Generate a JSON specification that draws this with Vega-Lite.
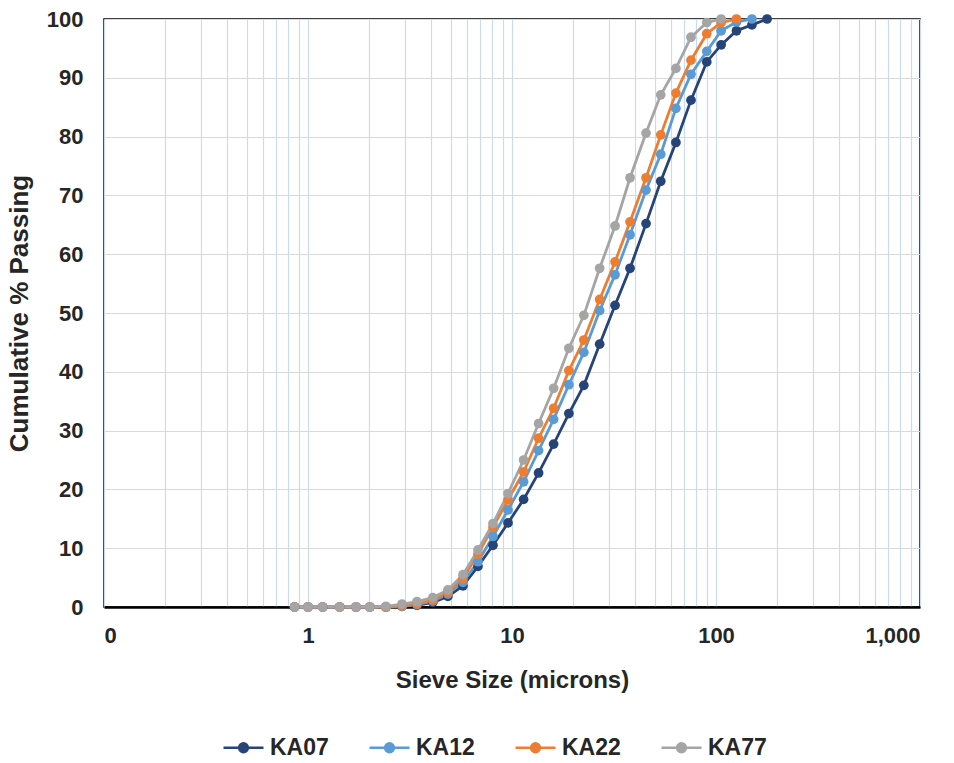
{
  "$schema": "https://vega.github.io/schema/vega-lite/v6.json",
  "autosize": {"type": "none"},
  "width": 816,
  "height": 588,
  "padding": {"left": 104, "top": 19, "right": 34, "bottom": 156},
  "background": "white",
  "config": {
    "view": {"stroke": "black", "strokeWidth": 1.5},
    "font": "Liberation Sans"
  },
  "data": {"values": [
    {"sample":"KA07","size":0.86,"pct":0},{"sample":"KA07","size":1.0,"pct":0},{"sample":"KA07","size":1.18,"pct":0},{"sample":"KA07","size":1.43,"pct":0},{"sample":"KA07","size":1.72,"pct":0},{"sample":"KA07","size":2.01,"pct":0},{"sample":"KA07","size":2.41,"pct":0},{"sample":"KA07","size":2.89,"pct":0.1},{"sample":"KA07","size":3.42,"pct":0.3},{"sample":"KA07","size":4.09,"pct":0.8},{"sample":"KA07","size":4.85,"pct":1.8},{"sample":"KA07","size":5.75,"pct":3.6},{"sample":"KA07","size":6.81,"pct":6.9},{"sample":"KA07","size":8.07,"pct":10.5},{"sample":"KA07","size":9.56,"pct":14.3},{"sample":"KA07","size":11.4,"pct":18.3},{"sample":"KA07","size":13.5,"pct":22.8},{"sample":"KA07","size":16.0,"pct":27.7},{"sample":"KA07","size":19.0,"pct":32.9},{"sample":"KA07","size":22.5,"pct":37.7},{"sample":"KA07","size":26.9,"pct":44.7},{"sample":"KA07","size":32.0,"pct":51.3},{"sample":"KA07","size":37.9,"pct":57.6},{"sample":"KA07","size":45.4,"pct":65.2},{"sample":"KA07","size":53.6,"pct":72.4},{"sample":"KA07","size":63.6,"pct":79.0},{"sample":"KA07","size":75.4,"pct":86.2},{"sample":"KA07","size":90.1,"pct":92.7},{"sample":"KA07","size":106,"pct":95.6},{"sample":"KA07","size":126,"pct":98.0},{"sample":"KA07","size":150,"pct":99.0},{"sample":"KA07","size":178,"pct":100},
    {"sample":"KA12","size":0.86,"pct":0},{"sample":"KA12","size":1.0,"pct":0},{"sample":"KA12","size":1.18,"pct":0},{"sample":"KA12","size":1.43,"pct":0},{"sample":"KA12","size":1.72,"pct":0},{"sample":"KA12","size":2.01,"pct":0},{"sample":"KA12","size":2.41,"pct":0},{"sample":"KA12","size":2.89,"pct":0.1},{"sample":"KA12","size":3.42,"pct":0.4},{"sample":"KA12","size":4.09,"pct":1.0},{"sample":"KA12","size":4.85,"pct":2.2},{"sample":"KA12","size":5.75,"pct":4.2},{"sample":"KA12","size":6.81,"pct":7.7},{"sample":"KA12","size":8.07,"pct":12.0},{"sample":"KA12","size":9.56,"pct":16.5},{"sample":"KA12","size":11.4,"pct":21.3},{"sample":"KA12","size":13.5,"pct":26.6},{"sample":"KA12","size":16.0,"pct":31.9},{"sample":"KA12","size":19.0,"pct":37.8},{"sample":"KA12","size":22.5,"pct":43.3},{"sample":"KA12","size":26.9,"pct":50.4},{"sample":"KA12","size":32.0,"pct":56.5},{"sample":"KA12","size":37.9,"pct":63.3},{"sample":"KA12","size":45.4,"pct":70.9},{"sample":"KA12","size":53.6,"pct":77.0},{"sample":"KA12","size":63.6,"pct":84.8},{"sample":"KA12","size":75.4,"pct":90.6},{"sample":"KA12","size":90.1,"pct":94.5},{"sample":"KA12","size":106,"pct":98.0},{"sample":"KA12","size":126,"pct":99.5},{"sample":"KA12","size":150,"pct":100},
    {"sample":"KA22","size":0.86,"pct":0},{"sample":"KA22","size":1.0,"pct":0},{"sample":"KA22","size":1.18,"pct":0},{"sample":"KA22","size":1.43,"pct":0},{"sample":"KA22","size":1.72,"pct":0},{"sample":"KA22","size":2.01,"pct":0},{"sample":"KA22","size":2.41,"pct":0},{"sample":"KA22","size":2.89,"pct":0.2},{"sample":"KA22","size":3.42,"pct":0.5},{"sample":"KA22","size":4.09,"pct":1.2},{"sample":"KA22","size":4.85,"pct":2.5},{"sample":"KA22","size":5.75,"pct":4.8},{"sample":"KA22","size":6.81,"pct":9.0},{"sample":"KA22","size":8.07,"pct":13.6},{"sample":"KA22","size":9.56,"pct":18.2},{"sample":"KA22","size":11.4,"pct":23.0},{"sample":"KA22","size":13.5,"pct":28.7},{"sample":"KA22","size":16.0,"pct":33.8},{"sample":"KA22","size":19.0,"pct":40.2},{"sample":"KA22","size":22.5,"pct":45.4},{"sample":"KA22","size":26.9,"pct":52.3},{"sample":"KA22","size":32.0,"pct":58.7},{"sample":"KA22","size":37.9,"pct":65.5},{"sample":"KA22","size":45.4,"pct":73.0},{"sample":"KA22","size":53.6,"pct":80.3},{"sample":"KA22","size":63.6,"pct":87.4},{"sample":"KA22","size":75.4,"pct":93.0},{"sample":"KA22","size":90.1,"pct":97.5},{"sample":"KA22","size":106,"pct":99.4},{"sample":"KA22","size":126,"pct":100},
    {"sample":"KA77","size":0.86,"pct":0},{"sample":"KA77","size":1.0,"pct":0},{"sample":"KA77","size":1.18,"pct":0},{"sample":"KA77","size":1.43,"pct":0},{"sample":"KA77","size":1.72,"pct":0},{"sample":"KA77","size":2.01,"pct":0},{"sample":"KA77","size":2.41,"pct":0.1},{"sample":"KA77","size":2.89,"pct":0.5},{"sample":"KA77","size":3.42,"pct":0.9},{"sample":"KA77","size":4.09,"pct":1.6},{"sample":"KA77","size":4.85,"pct":2.9},{"sample":"KA77","size":5.75,"pct":5.5},{"sample":"KA77","size":6.81,"pct":9.7},{"sample":"KA77","size":8.07,"pct":14.2},{"sample":"KA77","size":9.56,"pct":19.3},{"sample":"KA77","size":11.4,"pct":25.0},{"sample":"KA77","size":13.5,"pct":31.2},{"sample":"KA77","size":16.0,"pct":37.2},{"sample":"KA77","size":19.0,"pct":44.0},{"sample":"KA77","size":22.5,"pct":49.6},{"sample":"KA77","size":26.9,"pct":57.6},{"sample":"KA77","size":32.0,"pct":64.8},{"sample":"KA77","size":37.9,"pct":73.0},{"sample":"KA77","size":45.4,"pct":80.6},{"sample":"KA77","size":53.6,"pct":87.1},{"sample":"KA77","size":63.6,"pct":91.6},{"sample":"KA77","size":75.4,"pct":96.9},{"sample":"KA77","size":90.1,"pct":99.4},{"sample":"KA77","size":106,"pct":100}
  ]},
  "mark": {"type": "line", "strokeWidth": 2.8, "point": {"filled": true, "size": 95, "opacity": 1}},
  "encoding": {
    "x": {
      "field": "size", "type": "quantitative",
      "scale": {"type": "log", "domain": [0.1, 1000], "nice": false},
      "axis": {
        "title": "Sieve Size (microns)",
        "titleFontSize": 24, "titleFontWeight": "bold", "titleColor": "#262626", "titlePadding": 22,
        "values": [0.1,0.2,0.3,0.4,0.5,0.6,0.7,0.8,0.9,1,2,3,4,5,6,7,8,9,10,20,30,40,50,60,70,80,90,100,200,300,400,500,600,700,800,900,1000],
        "labelExpr": "datum.value == 0.1 ? '0' : (datum.value == 1 || datum.value == 10 || datum.value == 100 || datum.value == 1000) ? format(datum.value, ',') : ''",
        "labelFontSize": 22, "labelFontWeight": "bold", "labelColor": "#262626", "labelPadding": 18, "labelOverlap": false,
        "ticks": false,
        "domainColor": "black", "domainWidth": 2.5,
        "grid": true, "gridColor": "#C9DCEE", "gridWidth": 1.2
      }
    },
    "y": {
      "field": "pct", "type": "quantitative",
      "scale": {"domain": [0, 100], "nice": false},
      "axis": {
        "title": "Cumulative % Passing",
        "titleFontSize": 26, "titleFontWeight": "bold", "titleColor": "#262626", "titlePadding": 14,
        "values": [0,10,20,30,40,50,60,70,80,90,100],
        "labelFontSize": 22, "labelFontWeight": "bold", "labelColor": "#262626", "labelPadding": 21,
        "ticks": false, "domain": false,
        "grid": true, "gridColor": "#D9D9D9", "gridWidth": 1.2
      }
    },
    "color": {
      "field": "sample", "type": "nominal",
      "scale": {"domain": ["KA07","KA12","KA22","KA77"], "range": ["#264478","#5B9BD5","#ED7D31","#A5A5A5"]},
      "legend": {
        "title": null, "orient": "none", "direction": "horizontal",
        "legendX": 118, "legendY": 707,
        "symbolType": "M-1,0H1M-0.22,0A0.22,0.22,0,1,1,0.22,0A0.22,0.22,0,1,1,-0.22,0Z",
        "symbolSize": 1600, "symbolStrokeWidth": 2.5,
        "labelFontSize": 23, "labelFontWeight": "bold", "labelColor": "#262626", "labelOffset": 5, "labelLimit": 300,
        "columnPadding": 35,
        "encode": {"symbols": {"update": {"fill": {"scale": "color", "field": "value"}, "stroke": {"scale": "color", "field": "value"}, "opacity": {"value": 1}}}}
      }
    }
  }
}
